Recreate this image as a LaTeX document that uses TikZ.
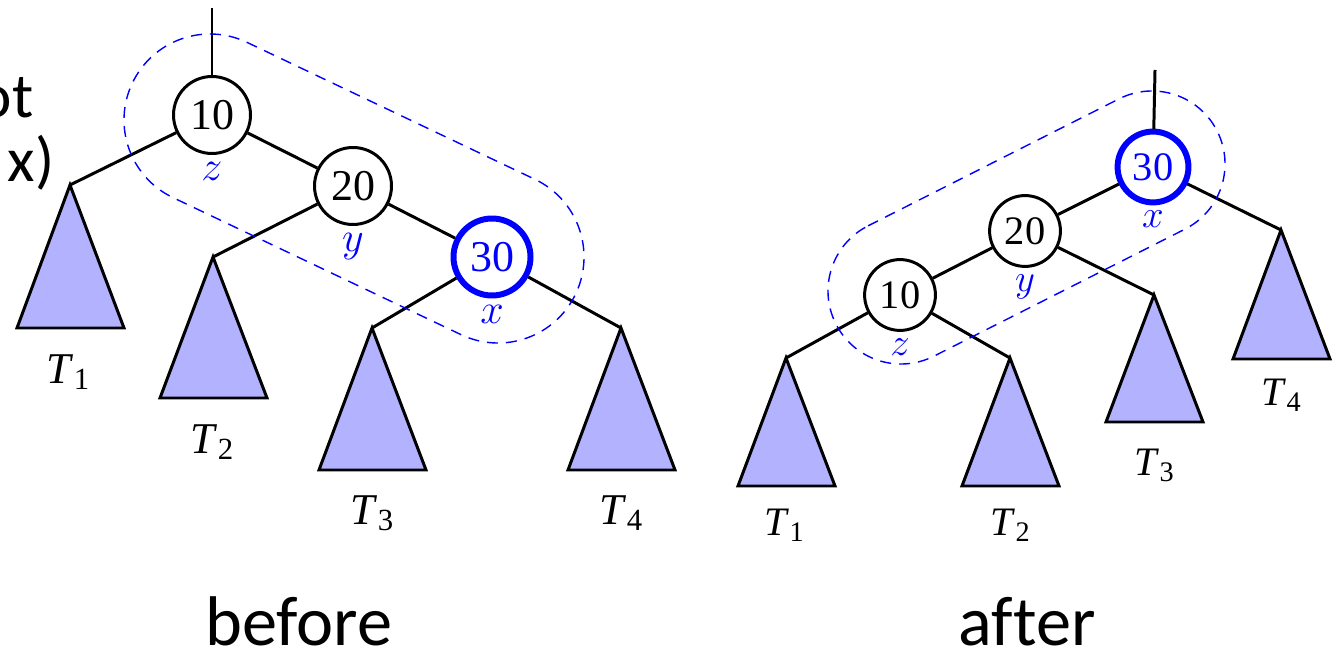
\documentclass[tikz,border=0pt]{standalone}
\usepackage{fontspec}
\setmainfont{Liberation Serif}
\newfontfamily\slidefont[Ligatures=CommonOff]{Carlito}
\usetikzlibrary{positioning,calc}
\definecolor{keyblue}{RGB}{0,0,255}
\definecolor{subfill}{RGB}{178,178,255}
\tikzset{key node/.style={circle,draw,line width=0.85pt,minimum size=0.77cm,inner sep=0pt,font=\fontsize{12.5}{14}\selectfont},
         hot node/.style={key node,draw=keyblue,line width=1.7pt,text=keyblue},
         name label/.style={inner sep=0pt,text=keyblue,font=\fontsize{12.5}{14}\selectfont\itshape},
         tree label/.style={font=\fontsize{12.5}{14}\selectfont},
         link/.style={line width=0.85pt},
         subtree/.style={draw,line width=0.85pt,fill=subfill},
         hull/.style={draw=keyblue,line width=0.4pt,dash pattern=on 1.1mm off 0.8mm},
         caption/.style={inner sep=0pt,font=\slidefont\fontsize{20}{24}\selectfont},
         side note/.style={inner sep=0pt,font=\slidefont\fontsize{18}{22}\selectfont},
         small/.style={scale=0.92},
            }

\begin{document}
\begin{tikzpicture}
    \path[use as bounding box,clip] (0,0) rectangle (13.43,-6.53);

    % before the rotation
    \node[key node] (b10) at (2.12,-1.15) {10};
    \node[key node] (b20) at (3.53,-1.86) {20};
    \node[hot node] (b30) at (4.92,-2.57) {30};
    \node[name label] [below=0.07cm of b10] {$z$};
    \node[name label] [below=0.07cm of b20] {$y$};
    \node[name label] [below=0.06cm of b30] {$x$};

    \coordinate (broot) at (2.12,-0.08);
    \coordinate (bt1) at (0.70,-1.85);
    \coordinate (bt2) at (2.13,-2.57);
    \coordinate (bt3) at (3.72,-3.28);
    \coordinate (bt4) at (6.21,-3.28);

    \draw[subtree] (bt1) -- ++(-0.53,-1.43) -- ++(1.07,0) -- cycle;
    \draw[subtree] (bt2) -- ++(-0.53,-1.41) -- ++(1.07,0) -- cycle;
    \draw[subtree] (bt3) -- ++(-0.53,-1.42) -- ++(1.07,0) -- cycle;
    \draw[subtree] (bt4) -- ++(-0.53,-1.42) -- ++(1.07,0) -- cycle;

    \path[draw,link]
    (broot) edge (b10)
    (b10) edge (bt1)
    (b10) edge (b20)
    (b20) edge (bt2)
    (b20) edge (b30)
    (b30) edge (bt3)
    (b30) edge (bt4);

    \node[tree label] (bl1) at (0.69,-3.72) {\textit{T}\textsubscript{1}};
    \node[tree label] (bl2) at (2.13,-4.42) {\textit{T}\textsubscript{2}};
    \node[tree label] (bl3) at (3.73,-5.13) {\textit{T}\textsubscript{3}};
    \node[tree label] (bl4) at (6.22,-5.13) {\textit{T}\textsubscript{4}};

    % dashed outline round z, y, x
    \coordinate (bh1) at (2.10,-1.20);
    \coordinate (bh2) at (4.98,-2.57);
    \draw[hull] ($(bh1)+(64.6:0.86)$) -- ($(bh2)+(64.6:0.86)$)
        arc[start angle=64.6,end angle=-115.4,radius=0.86]
        -- ($(bh1)+(-115.4:0.86)$)
        arc[start angle=244.6,end angle=64.6,radius=0.86] -- cycle;

    % after the rotation
    \node[hot node,small] (a30) at (11.53,-1.67) {30};
    \node[key node,small] (a20) at (10.25,-2.31) {20};
    \node[key node,small] (a10) at (9.00,-2.95) {10};
    \node[name label,small] [below=0.05cm of a30] {$x$};
    \node[name label,small] [below=0.06cm of a20] {$y$};
    \node[name label,small] [below=0.06cm of a10] {$z$};

    \coordinate (aroot) at (11.55,-0.70);
    \coordinate (at1) at (7.86,-3.58);
    \coordinate (at2) at (10.10,-3.58);
    \coordinate (at3) at (11.54,-2.95);
    \coordinate (at4) at (12.81,-2.30);

    \draw[subtree] (at1) -- ++(-0.48,-1.28) -- ++(0.97,0) -- cycle;
    \draw[subtree] (at2) -- ++(-0.48,-1.28) -- ++(0.97,0) -- cycle;
    \draw[subtree] (at3) -- ++(-0.48,-1.27) -- ++(0.97,0) -- cycle;
    \draw[subtree] (at4) -- ++(-0.48,-1.29) -- ++(0.97,0) -- cycle;

    \path[draw,link]
    (aroot) edge (a30)
    (a30) edge (a20)
    (a30) edge (at4)
    (a20) edge (a10)
    (a20) edge (at3)
    (a10) edge (at1)
    (a10) edge (at2);

    \node[tree label,small] (al1) at (7.85,-5.25) {\textit{T}\textsubscript{1}};
    \node[tree label,small] (al2) at (10.11,-5.25) {\textit{T}\textsubscript{2}};
    \node[tree label,small] (al3) at (11.55,-4.65) {\textit{T}\textsubscript{3}};
    \node[tree label,small] (al4) at (12.82,-3.95) {\textit{T}\textsubscript{4}};

    \coordinate (ah1) at (9.01,-2.91);
    \coordinate (ah2) at (11.52,-1.64);
    \draw[hull] ($(ah1)+(116.8:0.73)$) -- ($(ah2)+(116.8:0.73)$)
        arc[start angle=116.8,end angle=-63.2,radius=0.73]
        -- ($(ah1)+(-63.2:0.73)$)
        arc[start angle=296.8,end angle=116.8,radius=0.73] -- cycle;

    % captions
    \node[side note,anchor=base east] (note1) at (0.34,-1.18) {ot};
    \node[side note,anchor=base east] (note2) at (0.55,-1.82) {x)};
    \node[caption,anchor=base] (before) at (2.99,-6.45) {before};
    \node[caption,anchor=base] (after) at (10.27,-6.45) {after};
\end{tikzpicture}
\end{document}
